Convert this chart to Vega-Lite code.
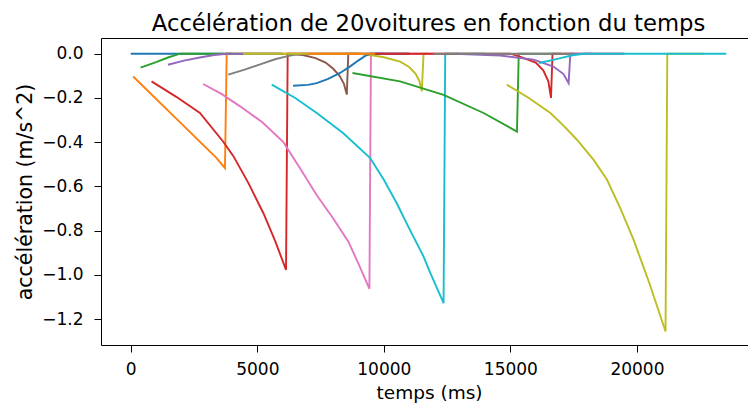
{
  "$schema": "https://vega.github.io/schema/vega-lite/v6.json",
  "width": 647,
  "height": 307,
  "autosize": {"type": "none"},
  "padding": {"left": 101, "top": 38, "right": 0, "bottom": 61},
  "background": "white",
  "config": {
    "view": {"stroke": null},
    "font": "DejaVu Sans",
    "axis": {
      "grid": false,
      "domainColor": "black",
      "domainWidth": 1,
      "tickColor": "black",
      "tickSize": 7,
      "tickWidth": 1,
      "labelColor": "black",
      "labelFont": "DejaVu Sans",
      "labelFontSize": 17,
      "titleColor": "black",
      "titleFont": "DejaVu Sans",
      "titleFontWeight": "normal"
    }
  },
  "title": {
    "text": "Accélération de 20voitures en fonction du temps",
    "font": "DejaVu Sans",
    "fontSize": 22.7,
    "fontWeight": "normal",
    "color": "black",
    "anchor": "middle",
    "offset": 2,
    "dx": 4
  },
  "data": {
    "values": [
      {"car": 0, "t": 0, "a": 0},
      {"car": 0, "t": 4000, "a": 0},

      {"car": 1, "t": 95, "a": -0.103},
      {"car": 1, "t": 1900, "a": -0.305},
      {"car": 1, "t": 3394, "a": -0.472},
      {"car": 1, "t": 3722, "a": -0.517},
      {"car": 1, "t": 3790, "a": 0},
      {"car": 1, "t": 7000, "a": 0},

      {"car": 2, "t": 390, "a": -0.063},
      {"car": 2, "t": 1000, "a": -0.038},
      {"car": 2, "t": 1500, "a": -0.016},
      {"car": 2, "t": 1950, "a": 0},
      {"car": 2, "t": 6000, "a": 0},

      {"car": 3, "t": 820, "a": -0.125},
      {"car": 3, "t": 1800, "a": -0.195},
      {"car": 3, "t": 2733, "a": -0.268},
      {"car": 3, "t": 3655, "a": -0.398},
      {"car": 3, "t": 4050, "a": -0.462},
      {"car": 3, "t": 4650, "a": -0.585},
      {"car": 3, "t": 5237, "a": -0.72},
      {"car": 3, "t": 5700, "a": -0.845},
      {"car": 3, "t": 6135, "a": -0.977},
      {"car": 3, "t": 6200, "a": 0},
      {"car": 3, "t": 9000, "a": 0},

      {"car": 4, "t": 1470, "a": -0.05},
      {"car": 4, "t": 2100, "a": -0.031},
      {"car": 4, "t": 2730, "a": -0.017},
      {"car": 4, "t": 3300, "a": -0.006},
      {"car": 4, "t": 3800, "a": 0},
      {"car": 4, "t": 6000, "a": 0},

      {"car": 5, "t": 6200, "a": 0},
      {"car": 5, "t": 6800, "a": -0.006},
      {"car": 5, "t": 7300, "a": -0.02},
      {"car": 5, "t": 7700, "a": -0.04},
      {"car": 5, "t": 8000, "a": -0.068},
      {"car": 5, "t": 8250, "a": -0.1},
      {"car": 5, "t": 8420, "a": -0.135},
      {"car": 5, "t": 8536, "a": -0.185},
      {"car": 5, "t": 8596, "a": 0},
      {"car": 5, "t": 11000, "a": 0},

      {"car": 6, "t": 2860, "a": -0.137},
      {"car": 6, "t": 3600, "a": -0.183},
      {"car": 6, "t": 4320, "a": -0.238},
      {"car": 6, "t": 5200, "a": -0.31},
      {"car": 6, "t": 6030, "a": -0.4},
      {"car": 6, "t": 6700, "a": -0.52},
      {"car": 6, "t": 7350, "a": -0.64},
      {"car": 6, "t": 8000, "a": -0.745},
      {"car": 6, "t": 8600, "a": -0.85},
      {"car": 6, "t": 9000, "a": -0.95},
      {"car": 6, "t": 9430, "a": -1.063},
      {"car": 6, "t": 9490, "a": 0},
      {"car": 6, "t": 12000, "a": 0},

      {"car": 7, "t": 3850, "a": -0.095},
      {"car": 7, "t": 4500, "a": -0.072},
      {"car": 7, "t": 5200, "a": -0.045},
      {"car": 7, "t": 5700, "a": -0.025},
      {"car": 7, "t": 6160, "a": -0.012},
      {"car": 7, "t": 6500, "a": -0.004},
      {"car": 7, "t": 6800, "a": 0},
      {"car": 7, "t": 10000, "a": 0},

      {"car": 8, "t": 4440, "a": 0},
      {"car": 8, "t": 9000, "a": 0},
      {"car": 8, "t": 9580, "a": -0.008},
      {"car": 8, "t": 10000, "a": -0.016},
      {"car": 8, "t": 10645, "a": -0.036},
      {"car": 8, "t": 11000, "a": -0.06},
      {"car": 8, "t": 11250, "a": -0.09},
      {"car": 8, "t": 11400, "a": -0.122},
      {"car": 8, "t": 11500, "a": -0.17},
      {"car": 8, "t": 11570, "a": 0},
      {"car": 8, "t": 11700, "a": 0},

      {"car": 9, "t": 5570, "a": -0.14},
      {"car": 9, "t": 6500, "a": -0.2},
      {"car": 9, "t": 7350, "a": -0.268},
      {"car": 9, "t": 8400, "a": -0.36},
      {"car": 9, "t": 9460, "a": -0.472},
      {"car": 9, "t": 10000, "a": -0.57},
      {"car": 9, "t": 10510, "a": -0.676},
      {"car": 9, "t": 11000, "a": -0.79},
      {"car": 9, "t": 11570, "a": -0.917},
      {"car": 9, "t": 11830, "a": -0.99},
      {"car": 9, "t": 12100, "a": -1.06},
      {"car": 9, "t": 12360, "a": -1.128},
      {"car": 9, "t": 12425, "a": 0},
      {"car": 9, "t": 14000, "a": 0},

      {"car": 10, "t": 6410, "a": -0.145},
      {"car": 10, "t": 7000, "a": -0.141},
      {"car": 10, "t": 7350, "a": -0.133},
      {"car": 10, "t": 7800, "a": -0.114},
      {"car": 10, "t": 8270, "a": -0.087},
      {"car": 10, "t": 8700, "a": -0.055},
      {"car": 10, "t": 9000, "a": -0.03},
      {"car": 10, "t": 9250, "a": -0.011},
      {"car": 10, "t": 9460, "a": 0},
      {"car": 10, "t": 11000, "a": 0},

      {"car": 11, "t": 7000, "a": 0},
      {"car": 11, "t": 9660, "a": 0},

      {"car": 12, "t": 8760, "a": -0.087},
      {"car": 12, "t": 10640, "a": -0.125},
      {"car": 12, "t": 12360, "a": -0.186},
      {"car": 12, "t": 13940, "a": -0.268},
      {"car": 12, "t": 15260, "a": -0.352},
      {"car": 12, "t": 15330, "a": 0},
      {"car": 12, "t": 17000, "a": 0},

      {"car": 13, "t": 9660, "a": 0},
      {"car": 13, "t": 15000, "a": 0},
      {"car": 13, "t": 15400, "a": -0.014},
      {"car": 13, "t": 16000, "a": -0.04},
      {"car": 13, "t": 16300, "a": -0.075},
      {"car": 13, "t": 16500, "a": -0.125},
      {"car": 13, "t": 16605, "a": -0.2},
      {"car": 13, "t": 16665, "a": 0},
      {"car": 13, "t": 18000, "a": 0},

      {"car": 14, "t": 12800, "a": 0},
      {"car": 14, "t": 14600, "a": -0.008},
      {"car": 14, "t": 15920, "a": -0.027},
      {"car": 14, "t": 16700, "a": -0.058},
      {"car": 14, "t": 17100, "a": -0.092},
      {"car": 14, "t": 17300, "a": -0.133},
      {"car": 14, "t": 17370, "a": 0},
      {"car": 14, "t": 18200, "a": 0},

      {"car": 15, "t": 18000, "a": 0},
      {"car": 15, "t": 19500, "a": 0},

      {"car": 16, "t": 18000, "a": 0},
      {"car": 16, "t": 19500, "a": 0},

      {"car": 17, "t": 11950, "a": 0},
      {"car": 17, "t": 17500, "a": 0},

      {"car": 18, "t": 14860, "a": -0.14},
      {"car": 18, "t": 15700, "a": -0.198},
      {"car": 18, "t": 16580, "a": -0.268},
      {"car": 18, "t": 17100, "a": -0.325},
      {"car": 18, "t": 17630, "a": -0.389},
      {"car": 18, "t": 18290, "a": -0.48},
      {"car": 18, "t": 18820, "a": -0.57},
      {"car": 18, "t": 19350, "a": -0.7},
      {"car": 18, "t": 19870, "a": -0.842},
      {"car": 18, "t": 20500, "a": -1.04},
      {"car": 18, "t": 21130, "a": -1.256},
      {"car": 18, "t": 21200, "a": 0},
      {"car": 18, "t": 22630, "a": 0},

      {"car": 19, "t": 16120, "a": -0.042},
      {"car": 19, "t": 16600, "a": -0.03},
      {"car": 19, "t": 16980, "a": -0.02},
      {"car": 19, "t": 17450, "a": -0.007},
      {"car": 19, "t": 17900, "a": 0},
      {"car": 19, "t": 23530, "a": 0}
    ]
  },
  "layer": [
    {
      "mark": {"type": "line", "strokeWidth": 1.9, "clip": true},
      "encoding": {
        "x": {
          "field": "t",
          "type": "quantitative",
          "scale": {"domain": [-1176, 24389], "nice": false, "zero": false},
          "axis": {"values": [0, 5000, 10000, 15000, 20000], "format": "d", "title": "temps (ms)", "titleFontSize": 18.5, "titlePadding": 6, "labelPadding": 9, "titleX": 328}
        },
        "y": {
          "field": "a",
          "type": "quantitative",
          "scale": {"domain": [-1.317, 0.071], "nice": false, "zero": false},
          "axis": {"values": [-1.2, -1, -0.8, -0.6, -0.4, -0.2, 0], "format": ".1f", "title": "accélération (m/s^2)", "titleFontSize": 20.5, "titlePadding": 6, "labelPadding": 11}
        },
        "color": {
          "field": "car",
          "type": "nominal",
          "scale": {
            "domain": [0, 1, 2, 3, 4, 5, 6, 7, 8, 9, 10, 11, 12, 13, 14, 15, 16, 17, 18, 19],
            "range": ["#1f77b4", "#ff7f0e", "#2ca02c", "#d62728", "#9467bd", "#8c564b", "#e377c2", "#7f7f7f", "#bcbd22", "#17becf", "#1f77b4", "#ff7f0e", "#2ca02c", "#d62728", "#9467bd", "#8c564b", "#e377c2", "#7f7f7f", "#bcbd22", "#17becf"]
          },
          "legend": null
        }
      }
    },
    {
      "mark": {"type": "point", "opacity": 0},
      "encoding": {
        "x": {
          "field": "t",
          "type": "quantitative",
          "axis": {"orient": "top", "labels": false, "ticks": false, "title": null, "domain": true}
        }
      }
    }
  ],
  "resolve": {"axis": {"x": "independent"}}
}
